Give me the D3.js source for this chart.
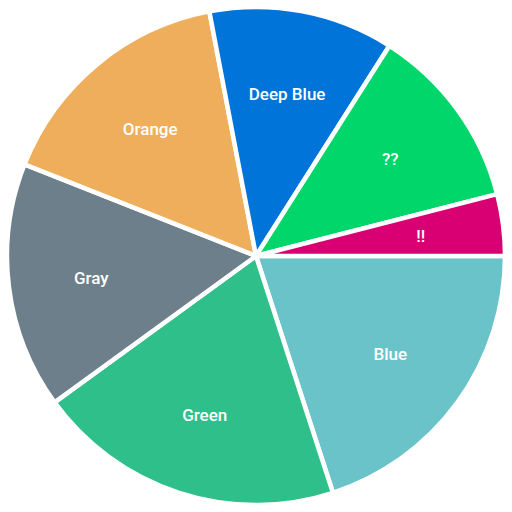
<!DOCTYPE html>
<html>
<head>
<meta charset="utf-8">
<script src="https://cdn.jsdelivr.net/npm/d3@7"></script>
<style>
  body { margin: 0; background: #fff; }
  svg { display: block; }
</style>
</head>
<body>
<div id="chart"></div>
<script>
// slice data, clockwise from 3 o'clock
var categories = ["Blue", "Green", "Gray", "Orange", "Deep Blue", "??", "!!"];
var values = [20, 20, 16, 16, 12, 12, 4];
var colors = ["#6bc3ca", "#2ebf8b", "#6d7f8a", "#eeae5b", "#0074d9", "#01d66a", "#d80073"];

var w = 512, h = 512;
var cx = 256, cy = 256;
var radius = 249;

var svg = d3.select("#chart").append("svg")
  .attr("width", w)
  .attr("height", h);

var g = svg.append("g")
  .attr("transform", "translate(" + cx + "," + cy + ")");

var data = categories.map(function(c, i) { return {name: c, value: values[i], color: colors[i]}; });

var pie = d3.pie()
  .sort(null)
  .value(function(d) { return d.value; })
  .startAngle(Math.PI / 2)
  .endAngle(Math.PI / 2 + 2 * Math.PI);

var arc = d3.arc().innerRadius(0).outerRadius(radius);
var labelArc = d3.arc().innerRadius(166).outerRadius(166);

var arcs = pie(data);

g.selectAll(".slice")
  .data(arcs).enter()
  .append("path")
  .attr("class", "slice")
  .attr("d", arc)
  .attr("fill", function(d) { return d.data.color; })
  .attr("stroke", "#fff")
  .attr("stroke-width", 4.5)
  .attr("stroke-linejoin", "round");

g.selectAll(".label")
  .data(arcs).enter()
  .append("text")
  .attr("class", "label")
  .attr("transform", function(d) { return "translate(" + labelArc.centroid(d) + ")"; })
  .attr("text-anchor", "middle")
  .attr("dy", "0.4em")
  .attr("font-family", "Roboto, sans-serif")
  .attr("font-weight", 500)
  .attr("font-size", "17px")
  .attr("fill", "#fff")
  .text(function(d) { return d.data.name; });
</script>
</body>
</html>
